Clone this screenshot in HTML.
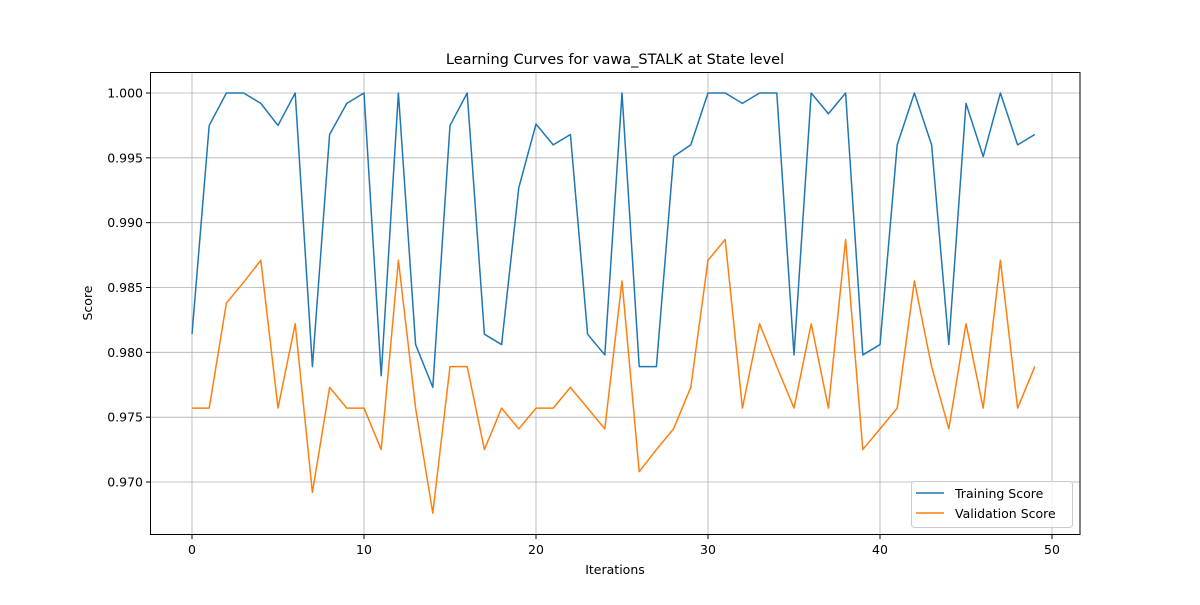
<!DOCTYPE html>
<html><head><meta charset="utf-8"><style>
body{margin:0;background:#fff}
svg text{font-family:"DejaVu Sans","Liberation Sans",sans-serif;fill:#000}
</style></head><body>
<svg id="chart" width="1200" height="600" xmlns="http://www.w3.org/2000/svg">
<rect width="1200" height="600" fill="#fff"/>
<g id="grid"></g>
<g id="lines"></g>
<rect x="150.5" y="72.5" width="929.5" height="462" fill="none" stroke="#000" stroke-width="1"/>
<g id="ticks"></g>
<text x="615" y="64" font-size="14.5" text-anchor="middle">Learning Curves for vawa_STALK at State level</text>
<text x="615" y="574" font-size="12.5" text-anchor="middle">Iterations</text>
<text x="92" y="303" font-size="12.5" text-anchor="middle" transform="rotate(-90 92 303)">Score</text>
<g>
<rect x="911.5" y="481.5" width="161" height="46" rx="3" fill="#fff" fill-opacity="0.8" stroke="#ccc"/>
<line x1="916" y1="493" x2="944" y2="493" stroke="#1f77b4" stroke-width="1.5"/>
<text x="955" y="498" font-size="12.5">Training Score</text>
<line x1="916" y1="513" x2="944" y2="513" stroke="#ff7f0e" stroke-width="1.5"/>
<text x="955" y="518" font-size="12.5">Validation Score</text>
</g>
</svg>
<script>
const training=[0.9814,0.9975,1,1,0.9992,0.9975,1,0.9789,0.9968,0.9992,1,0.9782,1,0.9806,0.9773,0.9975,1,0.9814,0.9806,0.9927,0.9976,0.9960,0.9968,0.9814,0.9798,1,0.9789,0.9789,0.9951,0.9960,1,1,0.9992,1,1,0.9798,1,0.9984,1,0.9798,0.9806,0.9960,1,0.9960,0.9806,0.9992,0.9951,1,0.9960,0.9968];
const validation=[0.9757,0.9757,0.9838,0.9854,0.9871,0.9757,0.9822,0.9692,0.9773,0.9757,0.9757,0.9725,0.9871,0.9757,0.9676,0.9789,0.9789,0.9725,0.9757,0.9741,0.9757,0.9757,0.9773,0.9757,0.9741,0.9855,0.9708,0.9725,0.9741,0.9773,0.9871,0.9887,0.9757,0.9822,0.9789,0.9757,0.9822,0.9757,0.9887,0.9725,0.9741,0.9757,0.9855,0.9789,0.9741,0.9822,0.9757,0.9871,0.9757,0.9789];
const xTicks=[0,10,20,30,40,50];
const yTicks=[0.970,0.975,0.980,0.985,0.990,0.995,1.000];
const ns="http://www.w3.org/2000/svg";
const X=v=>192+v*17.2;
const Y=v=>93+(1-v)/0.030*389;
function mk(tag,attrs,parent){const e=document.createElementNS(ns,tag);for(const k in attrs)e.setAttribute(k,attrs[k]);document.getElementById(parent).appendChild(e);return e;}
xTicks.forEach(t=>{
 const g=mk('line',{x1:X(t),x2:X(t),y1:72.5,y2:534.5,stroke:'#b0b0b0','stroke-width':0.8},'grid');
 
 
 const tk=mk('line',{x1:X(t),x2:X(t),y1:534.5,y2:539,stroke:'#000'},'ticks');
 
 
 const tx=mk('text',{x:X(t),y:554,'font-size':12.5,'text-anchor':'middle'},'ticks');
 
 
 tx.textContent=t;
});
yTicks.forEach(t=>{
 const g=mk('line',{x1:150.5,x2:1080,y1:Y(t),y2:Y(t),stroke:'#b0b0b0','stroke-width':0.8},'grid');
 
 
 const tk=mk('line',{x1:146,x2:150.5,y1:Y(t),y2:Y(t),stroke:'#000'},'ticks');
 
 
 const tx=mk('text',{x:143,y:Y(t)+4.5,'font-size':12.5,'text-anchor':'end'},'ticks');
 
 
 tx.textContent=t.toFixed(3);
});
function line(data,color,name){
 const p=mk('polyline',{points:data.map((v,i)=>X(i)+','+Y(v)).join(' '),fill:'none',stroke:color,'stroke-width':1.5,'stroke-linejoin':'round'},'lines');
 
 
}
line(training,'#1f77b4','training-score-line');
line(validation,'#ff7f0e','validation-score-line');
</script>
</body></html>
